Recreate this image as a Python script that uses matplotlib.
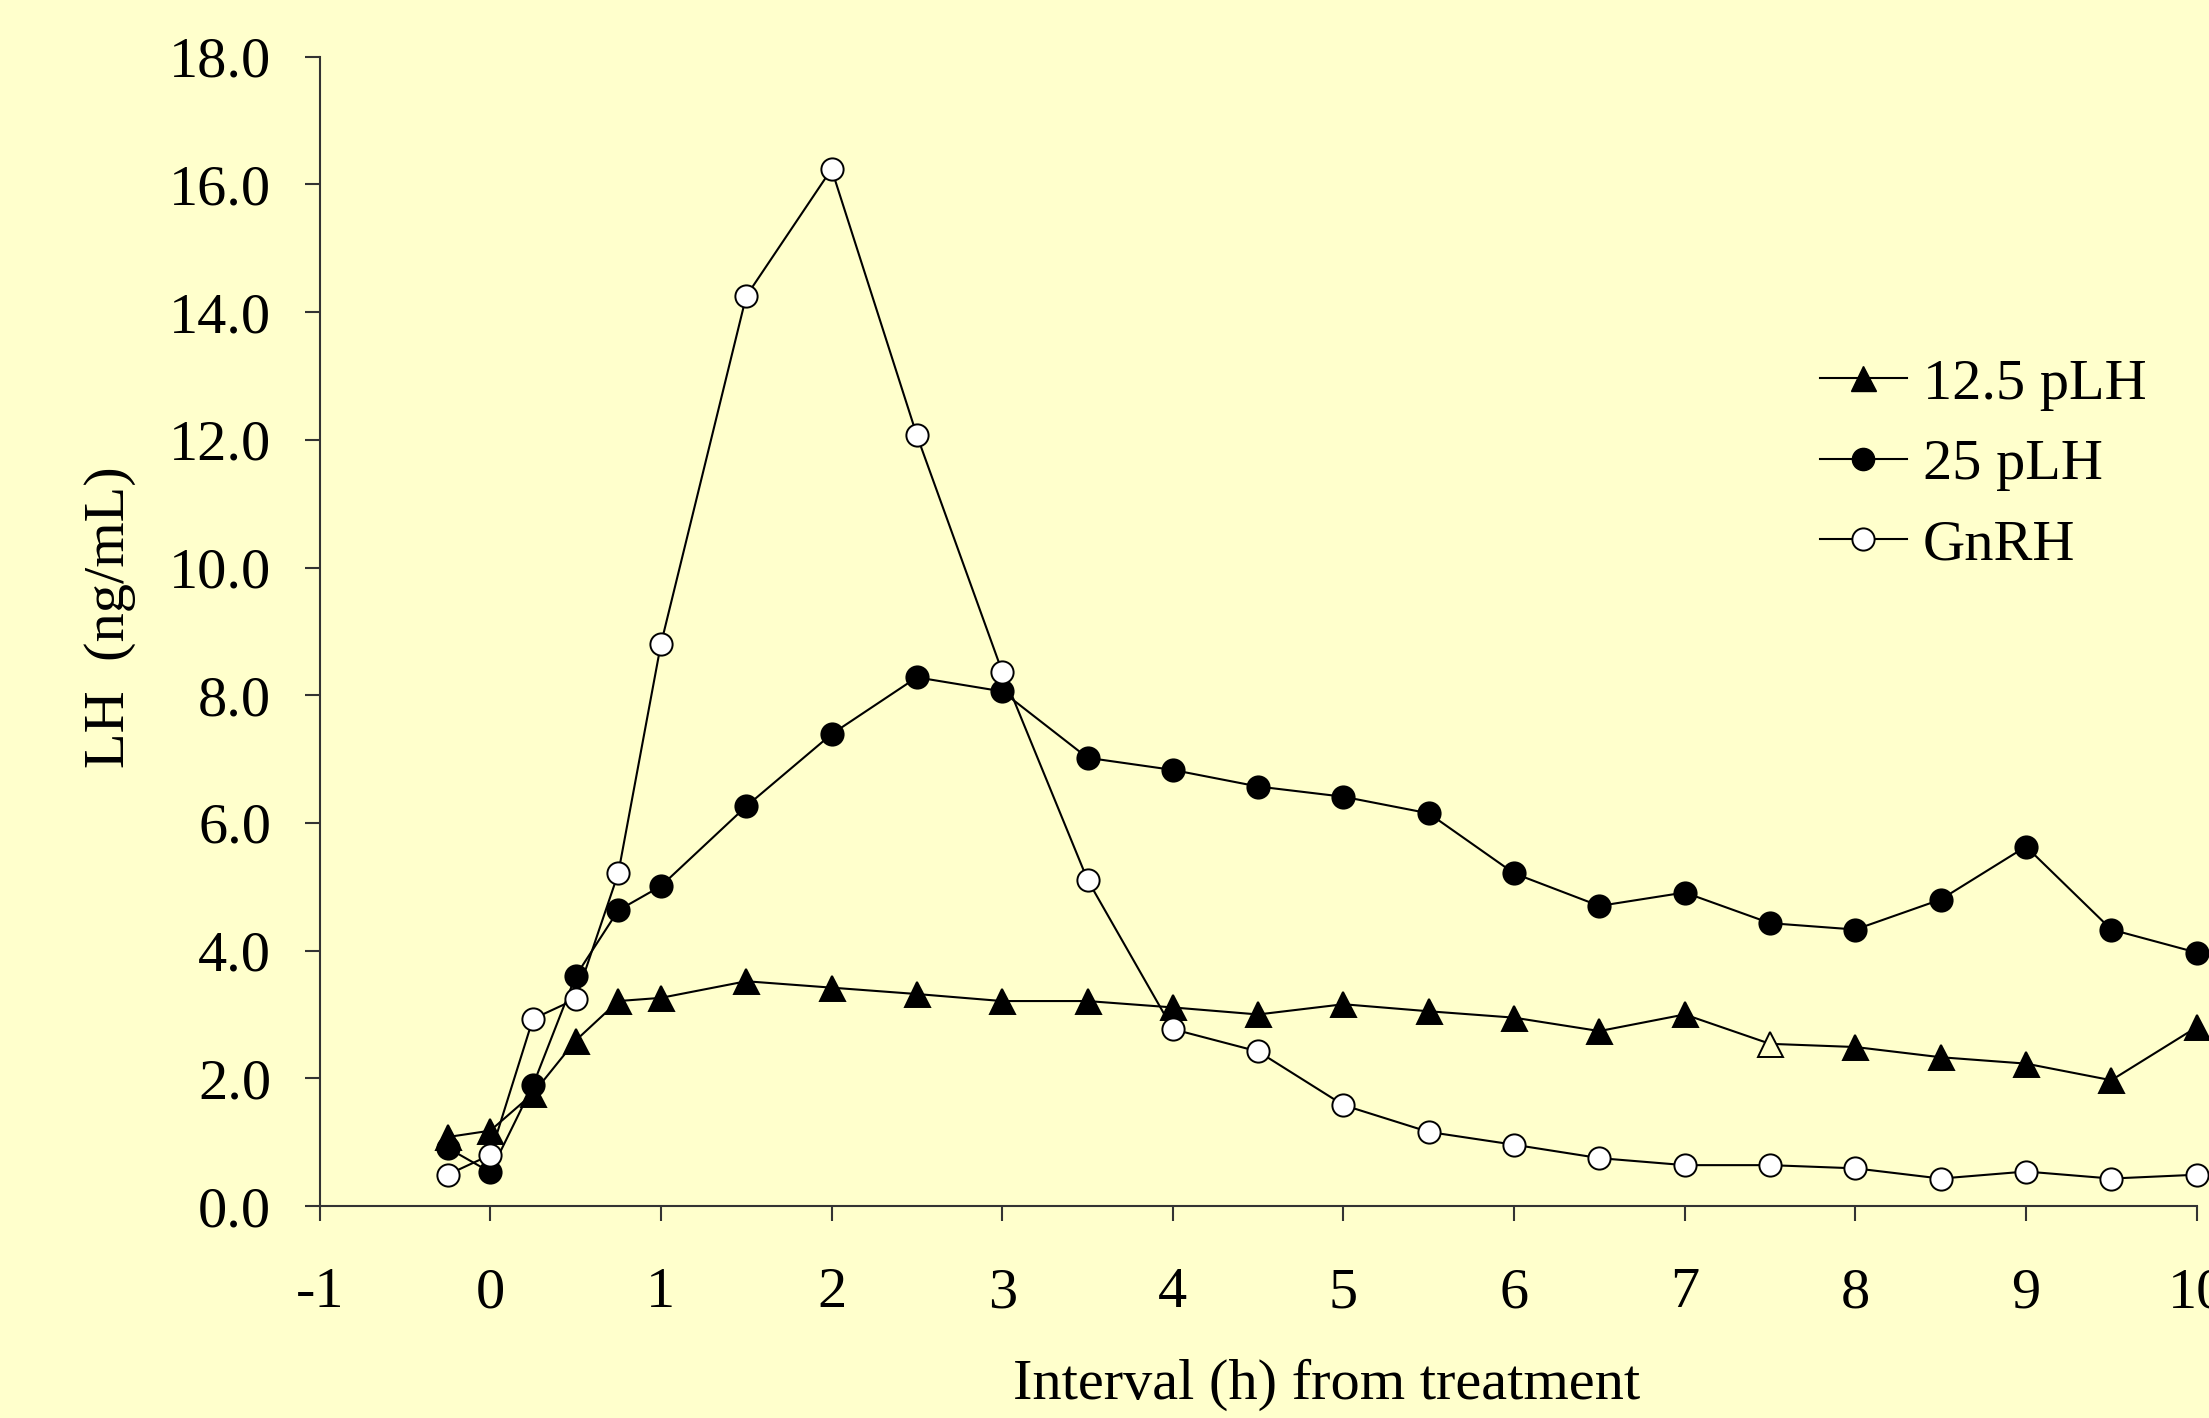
import matplotlib
matplotlib.use("Agg")
import matplotlib.pyplot as plt
from matplotlib.lines import Line2D

hours = [-0.25, 0, 0.25, 0.5, 0.75, 1, 1.5, 2, 2.5, 3, 3.5, 4, 4.5, 5, 5.5,
         6, 6.5, 7, 7.5, 8, 8.5, 9, 9.5, 10]
plh12 = [1.08, 1.18, 1.76, 2.59, 3.21, 3.26, 3.52, 3.42, 3.32, 3.21, 3.21, 3.11,
         3.00, 3.16, 3.05, 2.95, 2.74, 3.00, 2.54, 2.49, 2.33, 2.23, 1.97, 2.80]
plh12_open = [h == 7.5 for h in hours]
plh25 = [0.91, 0.53, 1.89, 3.60, 4.63, 5.01, 6.26, 7.39, 8.28, 8.06, 7.02, 6.83,
         6.57, 6.41, 6.15, 5.21, 4.70, 4.91, 4.43, 4.33, 4.80, 5.63, 4.33, 3.97]
gnrh = [0.49, 0.80, 2.93, 3.24, 5.21, 8.80, 14.25, 16.24, 12.07, 8.37, 5.11, 2.77,
        2.42, 1.58, 1.16, 0.96, 0.75, 0.64, 0.64, 0.59, 0.43, 0.54, 0.43, 0.49]
labels = ["12.5 pLH", "25 pLH", "GnRH"]
xticks = list(range(-1, 11))
yticks = [0, 2, 4, 6, 8, 10, 12, 14, 16, 18]

BG = "#FFFFCC"
FS = 42
plt.rcParams["font.family"] = ["Liberation Serif", "DejaVu Serif"]

fig = plt.figure(figsize=(22.09, 14.18), dpi=100, facecolor=BG)
ax = fig.add_axes([0.1447, 0.1495, 0.9944 - 0.1447, 0.96 - 0.1495])
ax.set_facecolor(BG)

lw = 1.5
mew = 1.4
ms_c = 16
ms_t = 18
# 12.5 pLH
ax.plot(hours, plh12, color="black", lw=lw, zorder=2, clip_on=False)
filled_idx = [i for i, o in enumerate(plh12_open) if not o]
open_idx = [i for i, o in enumerate(plh12_open) if o]
ax.plot([hours[i] for i in filled_idx], [plh12[i] for i in filled_idx], ls="none",
        marker="^", ms=ms_t, mfc="black", mec="black", mew=mew, zorder=3, clip_on=False)
ax.plot([hours[i] for i in open_idx], [plh12[i] for i in open_idx], ls="none",
        marker="^", ms=ms_t, mfc=BG, mec="black", mew=mew, zorder=3, clip_on=False)
# 25 pLH
ax.plot(hours, plh25, color="black", lw=lw, marker="o", ms=ms_c, mfc="black",
        mec="black", mew=mew, zorder=4, clip_on=False)
# GnRH
ax.plot(hours, gnrh, color="black", lw=lw, marker="o", ms=ms_c, mfc="white",
        mec="black", mew=mew, zorder=5, clip_on=False)

ax.set_xlim(-1, 10)
ax.set_ylim(0, 18)
ax.set_xticks(xticks)
ax.set_xticklabels([str(t) for t in xticks])
ax.set_yticks(yticks)
ax.set_yticklabels([f"{t:.1f}" for t in yticks])
for s in ["top", "right"]:
    ax.spines[s].set_visible(False)
for s in ["left", "bottom"]:
    ax.spines[s].set_color("#333333")
    ax.spines[s].set_linewidth(1.5)
ax.tick_params(axis="both", direction="out", length=11, width=1.5, color="#333333",
               labelsize=FS, labelcolor="black")
ax.tick_params(axis="y", pad=24)
ax.tick_params(axis="x", pad=33)

fig.text(1327 / 2209, 1 - 1399 / 1418, "Interval (h) from treatment", fontsize=FS,
         ha="center", va="baseline")
fig.text(110 / 2209, 1 - 617 / 1418, "LH  (ng/mL)", fontsize=FS, rotation=90,
         ha="center", va="center")

handles = [
    Line2D([], [], color="black", lw=lw, marker="^", ms=ms_t, mfc="black", mec="black"),
    Line2D([], [], color="black", lw=lw, marker="o", ms=ms_c, mfc="black", mec="black"),
    Line2D([], [], color="black", lw=lw, marker="o", ms=ms_c, mfc="white", mec="black", mew=mew),
]
leg = fig.legend(handles, labels, loc="upper left", bbox_to_anchor=(1820 / 2209, 1 - 358 / 1418),
                 frameon=False, fontsize=FS, handlelength=1.49, handletextpad=0.27,
                 labelspacing=0.47, borderpad=0, borderaxespad=0)

fig.savefig("out.png", dpi=100, facecolor=BG)
